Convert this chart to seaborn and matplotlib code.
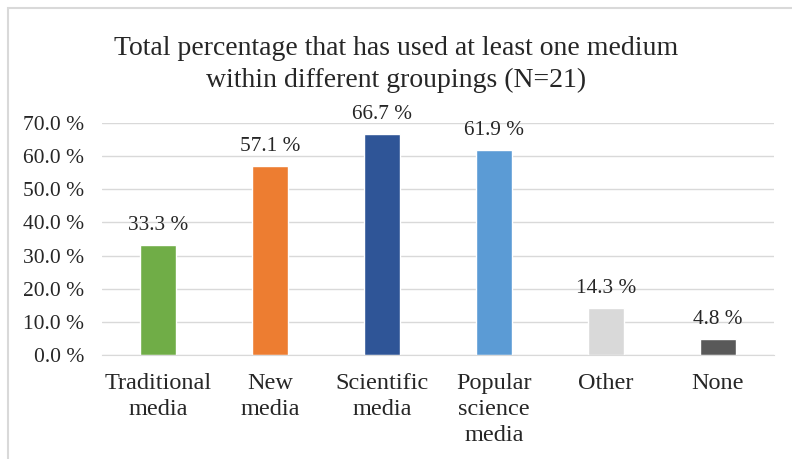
import matplotlib
matplotlib.use("Agg")
import matplotlib.pyplot as plt
import seaborn as sns
import pandas as pd
from matplotlib.patches import Rectangle

categories = ["Traditional\nmedia", "New\nmedia", "Scientific\nmedia",
              "Popular\nscience\nmedia", "Other", "None"]
values = [33.3, 57.1, 66.7, 61.9, 14.3, 4.8]
colors = ["#70AD47", "#ED7D31", "#2F5597", "#5B9BD5", "#D9D9D9", "#595959"]
yticks = [0, 10, 20, 30, 40, 50, 60, 70]

sns.set_style("white")
plt.rcParams["font.family"] = ["Liberation Serif", "DejaVu Serif"]

df = pd.DataFrame({"group": categories, "pct": values})

fig = plt.figure(figsize=(7.92, 4.59), dpi=100)
ax = fig.add_axes([0.129, 0.2266, 0.848, 0.5054])
sns.barplot(data=df, x="group", y="pct", hue="group", palette=colors,
            width=0.32, legend=False, ax=ax, saturation=1)

ax.set_ylim(0, 70)
ax.set_yticks(yticks)
ax.set_yticklabels([f"{t:.1f} %" for t in yticks], fontsize=15.5)
ax.tick_params(axis="x", labelsize=17.5, length=0, pad=13)
ax.tick_params(axis="y", length=0, pad=13)
for lbl in ax.get_xticklabels():
    lbl.set_linespacing(1.3)
ax.yaxis.grid(True, color="#D9D9D9", linewidth=1)
ax.set_axisbelow(True)
for s in ["top", "right", "left"]:
    ax.spines[s].set_visible(False)
ax.spines["bottom"].set_color("#D9D9D9")
ax.set_xlabel("")
ax.set_ylabel("")
ax.set_xlim(-0.5, 5.5)

for i, v in enumerate(values):
    ax.annotate(f"{v:.1f} %", (i, v), xytext=(0, 7), textcoords="offset points",
                ha="center", va="bottom", fontsize=15.3)

fig.text(0.5, 0.86, "Total percentage that has used at least one medium\nwithin different groupings (N=21)",
         ha="center", va="center", fontsize=20, linespacing=1.38)

fig.patches.append(Rectangle((8 / 792, -0.1), 1.2, 1.082, transform=fig.transFigure,
                             fill=False, edgecolor="#D9D9D9", linewidth=1.5))

fig.savefig("out.png", dpi=100)
